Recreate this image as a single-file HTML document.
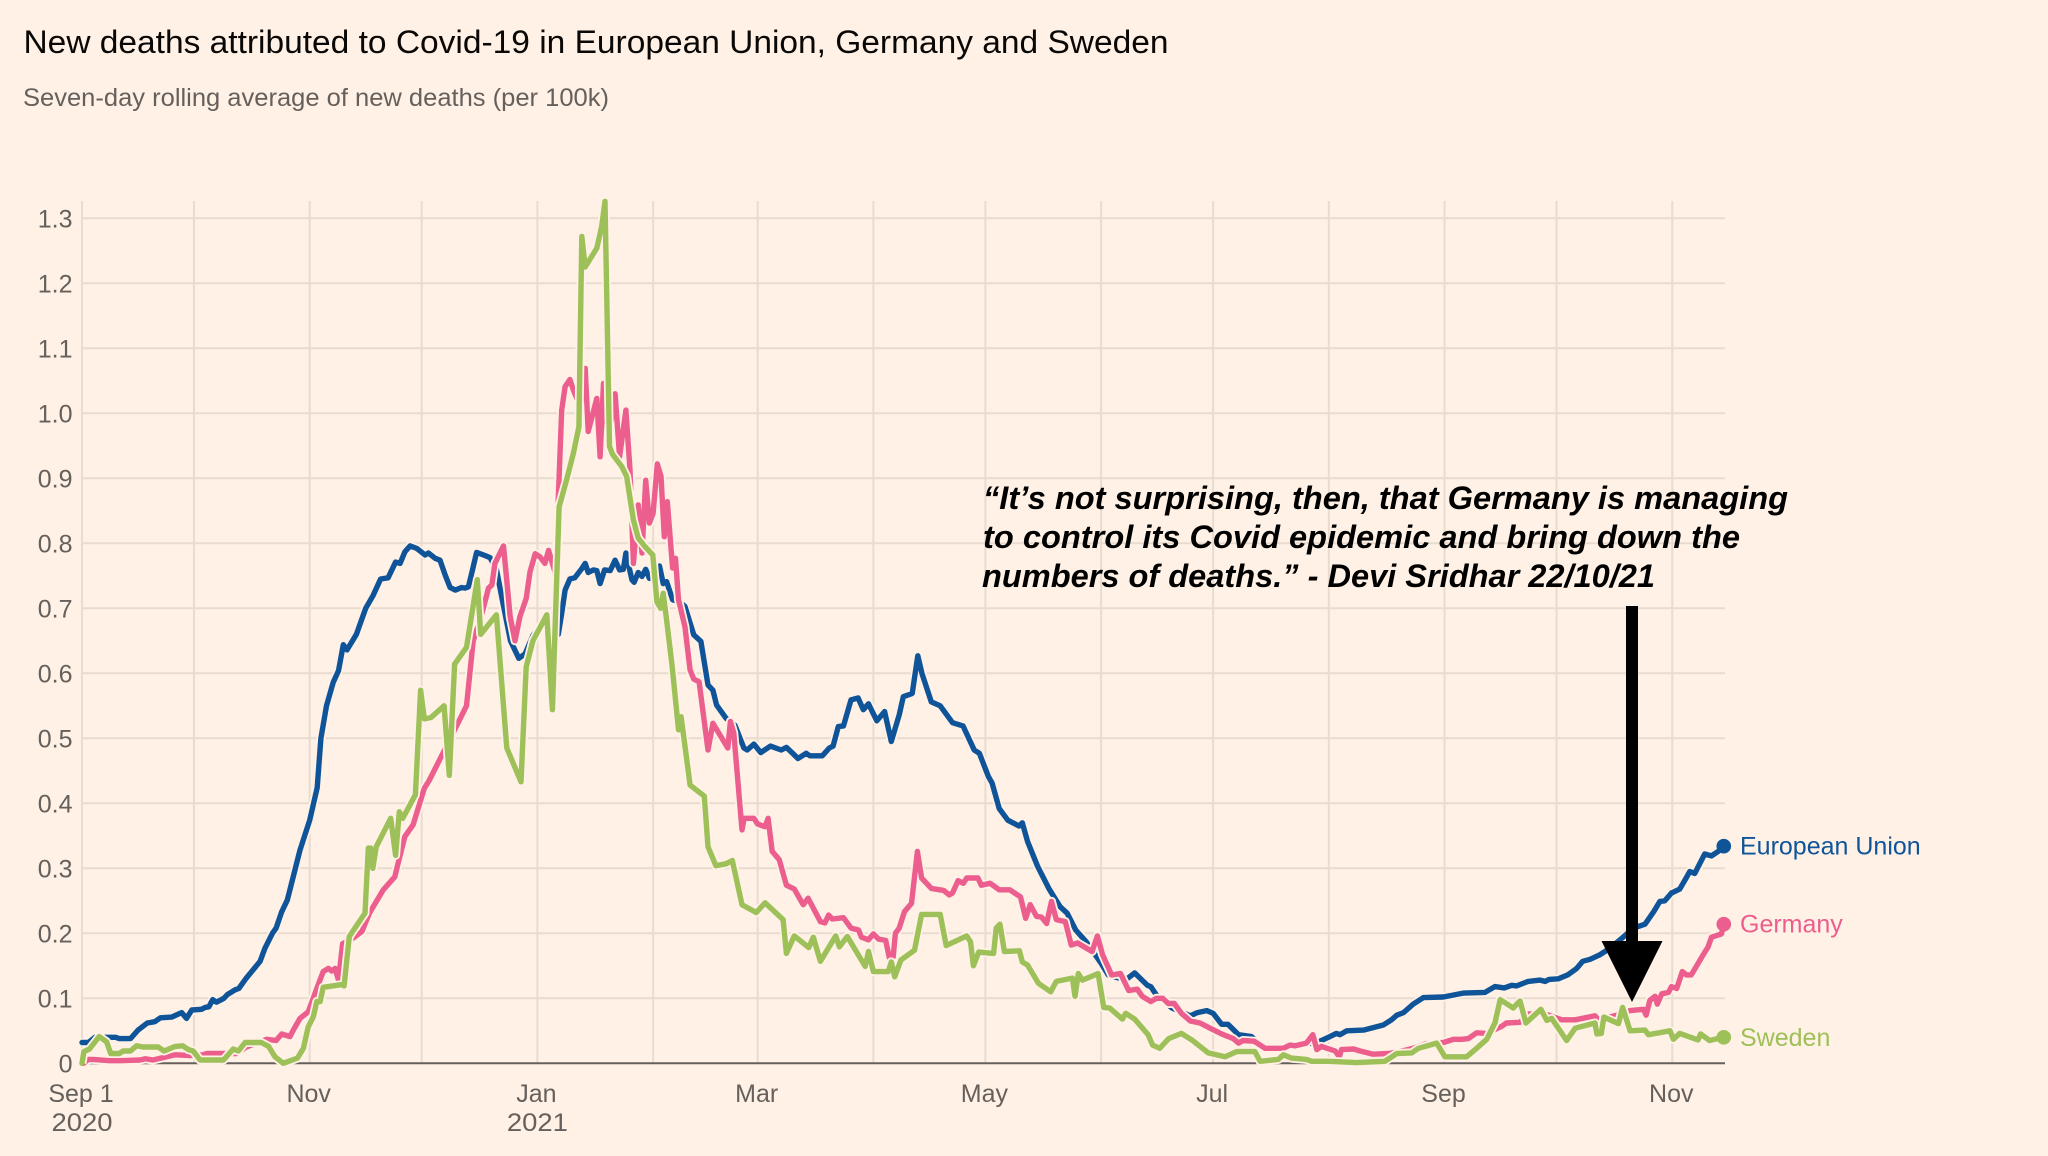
<!DOCTYPE html>
<html lang="en">
<head>
<meta charset="utf-8">
<title>New deaths attributed to Covid-19</title>
<style>
  html, body { margin: 0; padding: 0; background: #fff1e5; }
  svg { display: block; font-family: "Liberation Sans", sans-serif; }
</style>
</head>
<body>
<svg id="chart" xmlns="http://www.w3.org/2000/svg" width="2048" height="1156" viewBox="0 0 2048 1156">
  <rect x="0" y="0" width="2048" height="1156" fill="#fff1e5"/>
  <text x="23.5" y="53" font-size="32" fill="#0a0806" textLength="1145" lengthAdjust="spacingAndGlyphs">New deaths attributed to Covid-19 in European Union, Germany and Sweden</text>
  <text x="23" y="106" font-size="25" fill="#66605c" textLength="586" lengthAdjust="spacingAndGlyphs">Seven-day rolling average of new deaths (per 100k)</text>
  <g id="grid"></g>
  <g id="yAxis"></g>
  <g id="xAxis"></g>
  <g id="lines"></g>
  <g id="labels"></g>
  <g font-size="32" font-weight="bold" font-style="italic" fill="#000">
    <text x="983" y="509" textLength="805" lengthAdjust="spacingAndGlyphs">“It’s not surprising, then, that Germany is managing</text>
    <text x="983" y="548" textLength="757" lengthAdjust="spacingAndGlyphs">to control its Covid epidemic and bring down the</text>
    <text x="982" y="587" textLength="673" lengthAdjust="spacingAndGlyphs">numbers of deaths.” - Devi Sridhar 22/10/21</text>
  </g>
  <g fill="#000">
    <rect x="1626" y="606" width="12" height="336"/>
    <polygon points="1601.5,941 1662.5,941 1632,1002"/>
  </g>
</svg>
<script>
// Axis data
const yTicks = [0, 0.1, 0.2, 0.3, 0.4, 0.5, 0.6, 0.7, 0.8, 0.9, 1.0, 1.1, 1.2, 1.3];
const yTickLabels = ["0", "0.1", "0.2", "0.3", "0.4", "0.5", "0.6", "0.7", "0.8", "0.9", "1.0", "1.1", "1.2", "1.3"];
const monthDays = [0, 30, 61, 91, 122, 153, 181, 212, 242, 273, 303, 334, 365, 395, 426];
const xLabelDays = [0, 61, 122, 181, 242, 303, 365, 426];
const xLabels = ["Sep 1", "Nov", "Jan", "Mar", "May", "Jul", "Sep", "Nov"];
const xYearLabels = ["2020", "", "2021", "", "", "", "", ""];

// Series names (days since 1 Sep 2020; deaths per 100k)
const seriesNames = ["European Union", "Germany", "Sweden"];

const euDays = [0,1.7,3.5,9,10,13,15,17.5,19.5,21,24,26.7,28,29.4,32,33,34,35,36,38,39,41,42,44,47.7,49,51,52,53.5,55,58.4,61,63,64,65.5,67.3,68.7,70,71,73.5,76,78,80,82,84,85.2,86.5,87.9,89.7,91.9,92.8,94.6,95.9,97.3,98.6,100,101.7,102.6,103.5,104.4,105.7,108,109.3,111,112.7,114.8,117,118.7,120.8,123,125,127.6,128.5,129.4,130.7,132,133.9,134.8,135.6,137,137.9,138.8,140,141.5,142.8,144,145,145.7,147.3,147.9,149,150,151,152,153.5,154.7,155.7,156.6,158.2,160,161.5,163.9,165.8,167.7,169,170,172.5,174.9,177.3,178.2,180,181.8,184.4,187.3,188.7,190,191.8,194,195,198.3,200.2,201.2,202.6,204,206,207.9,209.3,210.7,212.9,215,216.8,218.9,220,222.4,223.9,225,227.5,229.9,233.2,236,239,240.4,242.8,243.8,245.7,248,251,251.9,253.3,256,259,262,263.9,266.2,269,273,274.9,277.7,280,282,285.4,286.3,287.8,292,296.9,298.8,301.3,303,305.3,307,309.8,313.3,316,320,326,331.6,333.9,336,337,338.8,343.3,348.6,350.8,352.2,354,356.6,359.3,364.7,370,375.8,378.5,381,383,384.3,387.4,390.6,391.9,393,395.5,398,400.4,402,404,406.6,409.3,412.4,415.6,418.7,421,422.7,424,425.8,428,429.4,430.7,432,434.7,436.5,438.3,439.8];
const euValues = [.032,.032,.04,.04,.038,.038,.051,.062,.064,.07,.071,.078,.069,.082,.083,.086,.087,.098,.094,.1,.106,.113,.115,.131,.157,.177,.2,.208,.233,.251,.328,.374,.424,.5,.55,.586,.604,.644,.636,.66,.7,.72,.745,.747,.771,.769,.787,.796,.792,.782,.785,.777,.774,.751,.732,.728,.732,.731,.733,.754,.786,.781,.778,.76,.71,.65,.623,.63,.658,.674,.675,.66,.692,.728,.745,.747,.761,.769,.755,.759,.758,.738,.759,.758,.774,.759,.76,.785,.744,.74,.755,.749,.76,.746,.755,.765,.738,.741,.713,.71,.703,.659,.649,.582,.574,.551,.531,.52,.485,.482,.491,.478,.488,.482,.486,.479,.469,.477,.473,.473,.485,.488,.518,.519,.559,.562,.544,.553,.527,.541,.495,.536,.564,.569,.627,.6,.556,.55,.524,.519,.482,.477,.441,.431,.392,.374,.365,.37,.341,.303,.269,.241,.231,.205,.187,.154,.136,.131,.13,.139,.12,.118,.105,.085,.073,.078,.081,.077,.06,.06,.044,.041,.026,.024,.027,.034,.04,.046,.044,.05,.051,.059,.067,.074,.078,.091,.101,.102,.108,.109,.118,.116,.12,.119,.126,.128,.126,.129,.13,.136,.146,.157,.16,.167,.177,.192,.208,.214,.233,.249,.25,.262,.268,.282,.295,.292,.322,.319,.326,.334];

const deDays = [0.4,1.7,3,7.5,10,15.5,17,19,22.7,25,29,32.5,33.4,38.3,41.4,44,49.5,52,53.5,55.7,56.6,58.4,60.6,62.9,64.6,66,66.9,67.8,68.7,69.8,72,75,77,80.7,83.8,85,86.5,88.7,91.7,93,98.7,103,104.8,106.5,107.5,108.9,109.8,110.6,112.9,114.7,116,117.3,119,120,121.4,122.7,124,125,126,127,127.6,128.5,129.4,130.7,131.6,133.5,134.8,135.6,137.9,138.8,139.7,141,142.8,144,145.7,146.8,147.7,149,150,151,152,153,154.1,155.1,156,156.8,158.2,159,159.8,161.5,162.9,163.9,165.3,167.7,169,173,173.7,174.6,176.8,177.4,180,181,183,183.8,184.9,186.8,188.7,190.8,193.2,194.5,197.8,199,200,201,204,206,208,208.8,210.7,212,213.4,215.3,216.3,217.3,217.9,218.9,220.3,222.2,223.8,224.9,227.5,230.8,232.3,233.2,234.7,236.1,237,240,240.9,243.3,245.7,248.5,251.4,252.8,254,255.7,257,258.4,259.7,261,263.4,265,266.7,270.6,272,273.4,275.8,278.2,280.4,282.7,284,286.3,287.8,289.5,291,292.6,294.5,296.9,299.5,302.2,305.3,308.4,309.8,311,314,316.9,321.8,323.6,325,328,329.7,330.8,332,335.7,336.8,337.4,340.6,342.4,345.9,350,353,356.6,360,364.7,367.4,369.6,371.4,373.6,376.3,380.3,381.6,385.2,387.4,392.4,396.4,400,405.3,406.2,411.1,414.7,418.3,419,420,421.4,422,423.2,425,425.8,427.2,428.7,429.8,431.1,434.3,435.6,436.5,439.2,439.8];
const deValues = [0,.006,.006,.004,.004,.005,.007,.005,.01,.013,.012,.013,.015,.015,.015,.025,.037,.035,.045,.041,.051,.069,.079,.115,.141,.146,.142,.146,.128,.184,.19,.203,.231,.267,.287,.315,.349,.367,.423,.435,.5,.55,.65,.68,.7,.731,.736,.769,.796,.687,.65,.687,.715,.756,.784,.779,.769,.789,.769,.75,.87,1.005,1.041,1.052,1.036,1.01,1.069,.972,1.023,.933,1.046,.96,1.03,.933,1.005,.913,.769,.859,.785,.897,.831,.846,.922,.903,.81,.864,.762,.777,.713,.672,.605,.591,.587,.482,.523,.485,.526,.508,.359,.377,.377,.368,.364,.377,.326,.313,.274,.268,.244,.254,.218,.216,.228,.222,.224,.208,.205,.194,.19,.199,.191,.189,.162,.164,.2,.208,.233,.246,.326,.285,.269,.266,.259,.262,.281,.277,.285,.285,.274,.277,.267,.267,.256,.223,.244,.226,.225,.215,.249,.221,.218,.182,.185,.172,.196,.167,.136,.138,.112,.114,.103,.095,.1,.1,.092,.092,.077,.065,.062,.054,.045,.038,.031,.035,.034,.023,.023,.028,.027,.031,.044,.021,.026,.019,.01,.021,.022,.019,.014,.015,.018,.023,.03,.032,.037,.037,.038,.047,.046,.057,.062,.063,.076,.075,.067,.067,.073,.067,.074,.081,.083,.074,.097,.103,.091,.107,.109,.118,.115,.141,.136,.136,.167,.179,.194,.199,.214];

const seDays = [0,.5,2,4.6,6.6,7.7,10,11,13,14.6,16.4,20.4,22,25,27,28.5,29.8,31.6,37.9,40.5,41.9,43.7,48,50,51.7,53.9,57.7,59.3,60.6,62,62.9,63.8,64.6,69.6,70.2,71.6,75.8,76.7,77.3,77.9,78.8,82.7,84,85,85.9,89.3,90.7,91.7,93.5,97,98.4,99.8,103,105.9,106.8,111,113.8,117.6,119,120.8,124.5,126,127.8,129.8,131.6,133.1,133.9,134.8,137.9,139.2,140.1,141.3,142.1,144.6,145.9,147.7,149,150.8,152.9,154,155,155.7,156.6,158.1,159.8,160.5,162.9,166.7,167.7,169.8,172.5,174.2,176.8,180.6,183,187.8,188.7,190.8,194.7,195.9,197.8,201.9,202.9,205,209.8,210.7,212,216,216.8,217.7,219.4,223,224.9,229.9,231.5,237,238,238.8,240.2,244.2,244.9,245.9,247.1,251.1,251.9,253.3,256.2,259.5,261,265.3,266,266.9,268,272.2,273.7,275.3,278.7,279.6,282,285.6,286.8,288.7,291.1,294.5,297.3,299.5,301.7,306.2,309.3,314.2,315.6,320.5,321.8,324,328,329.4,333.9,341.5,349,352.2,356.2,358,362.9,365.1,370.9,373.6,376.3,378.5,379.9,383.4,385.2,386.8,390.8,392.4,393.7,397.7,400,405.3,405.8,407,407.7,411.6,412.7,414.7,418.7,419.6,425.4,426.3,428,432.9,433.6,436,437.4,439.8];
const seValues = [0,.018,.022,.041,.033,.015,.015,.019,.019,.027,.025,.025,.019,.026,.027,.021,.019,.005,.005,.022,.019,.032,.032,.026,.01,0,.008,.023,.056,.072,.095,.095,.117,.121,.119,.195,.231,.331,.331,.3,.333,.377,.32,.387,.377,.413,.574,.53,.532,.55,.443,.614,.64,.744,.66,.69,.485,.433,.61,.65,.69,.544,.856,.897,.938,.979,1.272,1.225,1.254,1.287,1.326,.949,.937,.918,.903,.836,.808,.795,.782,.71,.7,.723,.682,.61,.513,.533,.428,.411,.333,.304,.307,.312,.244,.232,.247,.221,.169,.196,.178,.194,.157,.196,.179,.195,.149,.172,.141,.141,.156,.133,.159,.174,.229,.229,.181,.196,.187,.15,.171,.169,.208,.214,.172,.173,.156,.151,.123,.11,.126,.131,.103,.138,.128,.138,.086,.085,.068,.077,.068,.044,.028,.023,.038,.046,.036,.026,.016,.01,.018,.018,.003,.006,.013,.008,.006,.003,.003,.001,.003,.015,.016,.023,.031,.01,.01,.023,.037,.062,.098,.085,.096,.062,.083,.066,.069,.035,.054,.062,.045,.046,.071,.061,.086,.05,.051,.044,.05,.037,.046,.036,.045,.035,.037,.04];

const NS = "http://www.w3.org/2000/svg";
const BG = "#fff1e5";
const GRID = "#e8dbd0";
const MUTED = "#66605c";
const EU_COLOR = "#0f5499";
const DE_COLOR = "#eb5e8d";
const SE_COLOR = "#9dc059";

const plotLeft = 82, plotRight = 1725, plotTop = 201, plotBottom = 1063.3;
function xScale(day) { return plotLeft + day * 3.733; }
function yScale(value) { return plotBottom - value * 650; }

function make(tag, attrs, parent, text) {
  const el = document.createElementNS(NS, tag);
  for (const key in attrs) el.setAttribute(key, attrs[key]);
  if (text !== undefined) el.textContent = text;
  parent.appendChild(el);
  return el;
}

const grid = document.getElementById("grid");
const yAxis = document.getElementById("yAxis");
const xAxis = document.getElementById("xAxis");
const lines = document.getElementById("lines");
const labels = document.getElementById("labels");

monthDays.forEach(function (day) {
  const el = make("line", { x1: xScale(day), x2: xScale(day), y1: plotTop, y2: plotBottom, stroke: GRID, "stroke-width": 2 }, grid);
  
  
});

yTicks.forEach(function (tick, i) {
  if (tick !== 0) {
    const rule = make("line", { x1: plotLeft, x2: plotRight, y1: yScale(tick), y2: yScale(tick), stroke: GRID, "stroke-width": 2 }, grid);
    
    
  }
  const label = make("text", { x: 72.5, y: yScale(tick) + 9, "text-anchor": "end", "font-size": 25, fill: MUTED }, yAxis, yTickLabels[i]);
  
  
});

const baseline = make("line", { x1: plotLeft, x2: plotRight, y1: plotBottom, y2: plotBottom, stroke: MUTED, "stroke-width": 2 }, xAxis);



xLabelDays.forEach(function (day, i) {
  const month = make("text", { x: xScale(day) - 1, y: 1102, "text-anchor": "middle", "font-size": 25, fill: MUTED }, xAxis, xLabels[i]);
  
  
  if (xYearLabels[i]) {
    const year = make("text", { x: xScale(day) - 30.5, y: 1131, "font-size": 25, fill: MUTED, textLength: 61, lengthAdjust: "spacingAndGlyphs" }, xAxis, xYearLabels[i]);
    
    
  }
});

function pathFor(days, values) {
  return days.map(function (day, i) {
    return (i ? "L" : "M") + xScale(day).toFixed(1) + " " + yScale(values[i]).toFixed(1);
  }).join("");
}

function drawSeries(name, days, values, color, slug) {
  const d = pathFor(days, values);
  const halo = make("path", { d: d, fill: "none", stroke: BG, "stroke-width": 9, "stroke-linejoin": "round", "stroke-linecap": "butt" }, lines);
  
  
  const line = make("path", { d: d, fill: "none", stroke: color, "stroke-width": 5.4, "stroke-linejoin": "round", "stroke-linecap": "round" }, lines);
  
  
  const lastDay = days[days.length - 1];
  const lastValue = values[values.length - 1];
  const dot = make("circle", { cx: xScale(lastDay), cy: yScale(lastValue), r: 7.3, fill: color }, labels);
  
  
  const label = make("text", { x: 1740, y: yScale(lastValue) + 8.5, "font-size": 25, fill: color }, labels, name);
  
  
}

drawSeries(seriesNames[0], euDays, euValues, EU_COLOR, "european-union");
drawSeries(seriesNames[1], deDays, deValues, DE_COLOR, "germany");
drawSeries(seriesNames[2], seDays, seValues, SE_COLOR, "sweden");
</script>
</body>
</html>
